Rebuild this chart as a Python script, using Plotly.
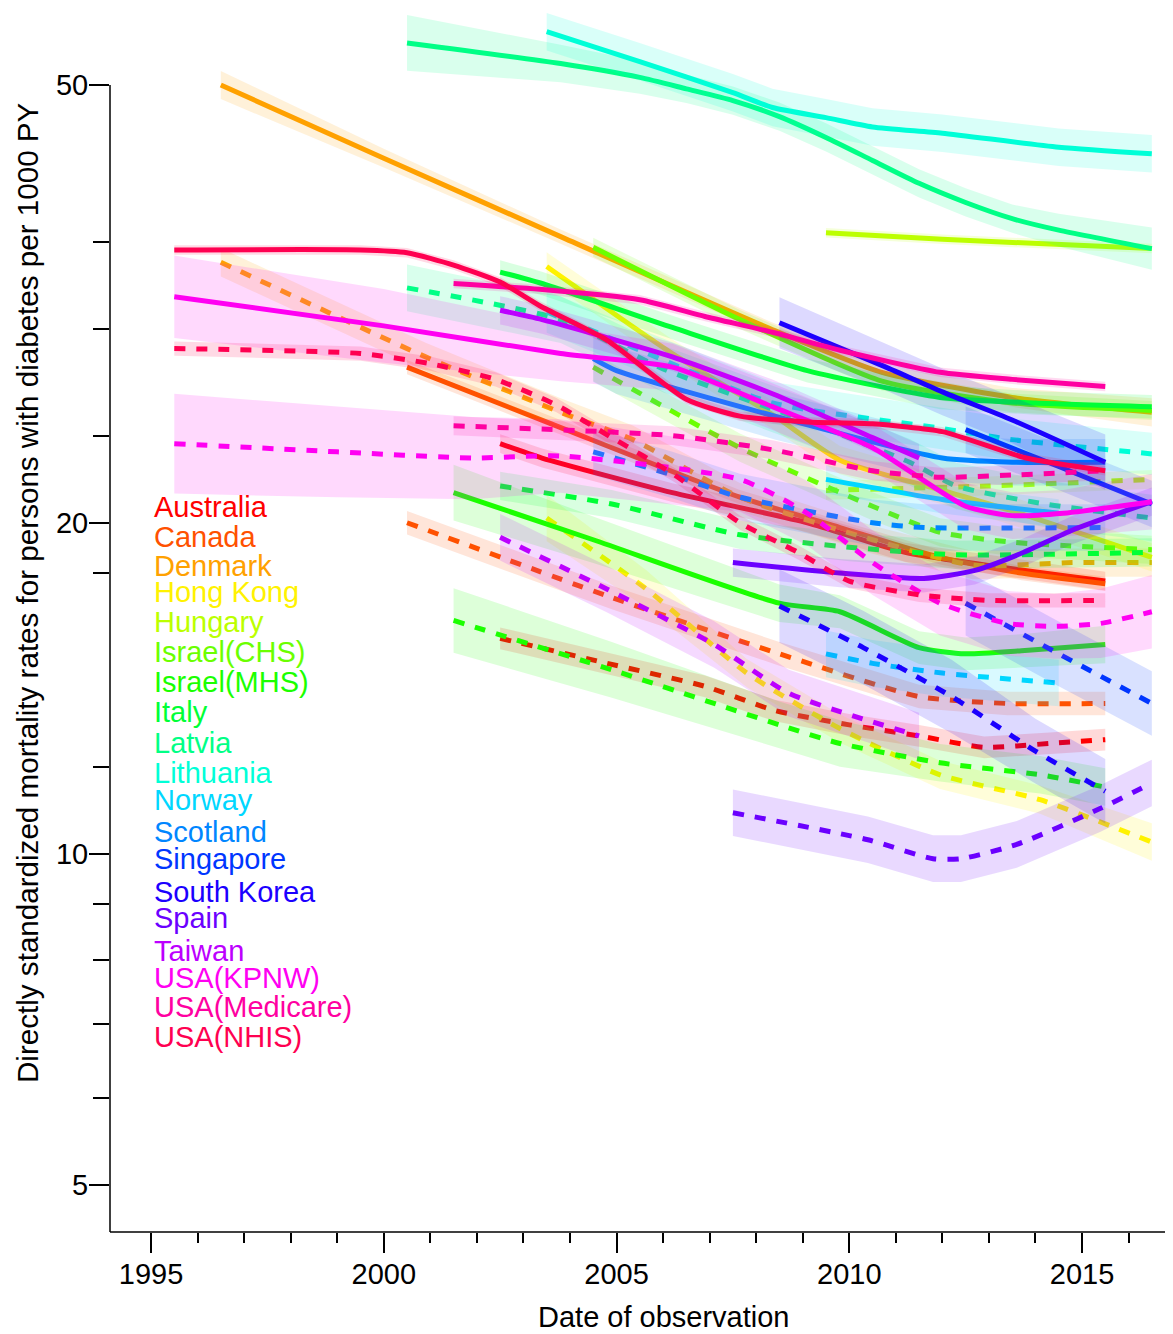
import math
import colorsys
import plotly.graph_objects as go

# ---------------- data ----------------
COUNTRIES = ["Australia", "Canada", "Denmark", "Hong Kong", "Hungary", "Israel(CHS)",
             "Israel(MHS)", "Italy", "Latvia", "Lithuania", "Norway", "Scotland",
             "Singapore", "South Korea", "Spain", "Taiwan", "USA(KPNW)",
             "USA(Medicare)", "USA(NHIS)"]

AUS_S_YR = [2002.5, 2003.4, 2006.2, 2009.1, 2011.2, 2015.5]
AUS_S_VAL = [23.6, 22.9, 21.3, 20.0, 18.8, 17.7]
AUS_S_CI = 0.02
AUS_D_YR = [2002.5, 2004.8, 2006.9, 2008.4, 2010.0, 2011.5, 2012.9, 2014.3, 2015.5]
AUS_D_VAL = [15.7, 14.9, 14.2, 13.5, 13.1, 12.8, 12.5, 12.6, 12.7]
AUS_D_CI = 0.023

CAN_S_YR = [2000.5, 2003.6, 2007.65, 2009.8, 2011.95, 2013.7, 2015.5]
CAN_S_VAL = [27.7, 24.6, 21.1, 19.8, 18.6, 18.0, 17.6]
CAN_S_CI = 0.015
CAN_D_YR = [2000.5, 2004.9, 2008.5, 2011.5, 2013.4, 2015.5]
CAN_D_VAL = [20.0, 17.1, 15.2, 13.9, 13.7, 13.7]
CAN_D_CI = 0.025

DEN_S_YR = [1996.5, 2000.0, 2003.8, 2008.4, 2010.7, 2013.5, 2016.5]
DEN_S_VAL = [50.0, 42.9, 36.4, 29.9, 27.4, 26.0, 25.2]
DEN_S_CI = [0.03, 0.02, 0.015, 0.015, 0.015, 0.02, 0.03]
DEN_D_YR = [1996.5, 2000.9, 2003.8, 2005.35, 2007.65, 2010.5, 2012.65, 2014.8, 2016.5]
DEN_D_VAL = [34.5, 28.3, 25.2, 23.8, 21.1, 19.3, 18.3, 18.4, 18.4]
DEN_D_CI = 0.03

HKG_S_YR = [2003.5, 2006.2, 2008.4, 2009.8, 2012.0, 2013.5, 2016.5]
HKG_S_VAL = [34.2, 28.5, 25.0, 22.8, 21.4, 20.5, 18.6]
HKG_S_CI = 0.03
HKG_D_YR = [2003.5, 2005.65, 2007.8, 2009.8, 2011.95, 2014.1, 2016.5]
HKG_D_VAL = [20.2, 17.4, 14.6, 13.0, 11.8, 11.2, 10.25]
HKG_D_CI = [0.05, 0.04, 0.03, 0.03, 0.03, 0.03, 0.04]

HUN_S_YR = [2009.5, 2012.0, 2016.5]
HUN_S_VAL = [36.7, 36.2, 35.5]
HUN_S_CI = 0.01
HUN_D_YR = [2009.5, 2013.0, 2016.5]
HUN_D_VAL = [21.4, 21.6, 21.9]
HUN_D_CI = 0.02

ICH_S_YR = [2004.5, 2007.65, 2010.7, 2013.5, 2016.5]
ICH_S_VAL = [35.6, 30.6, 26.9, 25.7, 25.3]
ICH_S_CI = 0.02
ICH_D_YR = [2004.5, 2007.65, 2010.5, 2011.95, 2013.5, 2016.5]
ICH_D_VAL = [27.7, 23.4, 20.7, 19.6, 19.2, 18.9]
ICH_D_CI = 0.03

IMH_S_YR = [2001.5, 2004.5, 2008.5, 2009.8, 2011.5, 2012.5, 2013.7, 2015.5]
IMH_S_VAL = [21.3, 19.3, 16.9, 16.6, 15.4, 15.2, 15.3, 15.5]
IMH_S_CI = [0.06, 0.05, 0.04, 0.035, 0.035, 0.035, 0.035, 0.04]
IMH_D_YR = [2001.5, 2004.9, 2008.5, 2009.8, 2011.95, 2014.1, 2015.5]
IMH_D_VAL = [16.3, 14.7, 13.1, 12.6, 12.1, 11.8, 11.5]
IMH_D_CI = [0.07, 0.06, 0.05, 0.05, 0.04, 0.04, 0.04]

ITA_S_YR = [2002.5, 2003.4, 2006.2, 2009.1, 2011.95, 2014.0, 2016.5]
ITA_S_VAL = [33.8, 33.0, 30.1, 27.5, 26.0, 25.7, 25.5]
ITA_S_CI = 0.025
ITA_D_YR = [2002.5, 2004.9, 2007.65, 2010.0, 2012.3, 2016.5]
ITA_D_VAL = [21.6, 20.8, 19.5, 19.0, 18.7, 18.8]
ITA_D_CI = 0.03

LVA_S_YR = [2000.5, 2003.8, 2005.5, 2006.5, 2007.5, 2008.5, 2009.5, 2010.5, 2011.5,
            2012.5, 2013.5, 2014.5, 2016.5]
LVA_S_VAL = [54.6, 52.3, 50.8, 49.6, 48.4, 46.8, 44.8, 42.7, 40.7, 39.1, 37.8, 36.9, 35.5]
LVA_S_CI = [0.06, 0.04, 0.035, 0.03, 0.03, 0.03, 0.03, 0.03, 0.03, 0.03, 0.03, 0.035, 0.045]
LVA_D_YR = [2000.5, 2003.8, 2006.0, 2009.0, 2011.3, 2012.3, 2014.2, 2016.5]
LVA_D_VAL = [32.7, 30.6, 27.6, 24.8, 22.7, 21.6, 20.8, 20.2]
LVA_D_CI = 0.05

LTU_S_YR = [2003.5, 2005.5, 2007.5, 2008.35, 2009.5, 2010.5, 2012.0, 2014.5, 2016.5]
LTU_S_VAL = [55.9, 52.5, 49.2, 47.7, 46.7, 45.8, 45.2, 43.9, 43.3]
LTU_S_CI = 0.04
LTU_D_YR = [2003.5, 2005.5, 2008.35, 2011.9, 2013.5, 2016.5]
LTU_D_VAL = [31.1, 28.7, 25.7, 24.4, 23.8, 23.1]
LTU_D_CI = 0.045

NOR_S_YR = [2009.5, 2012.0, 2014.5]
NOR_S_VAL = [21.9, 21.0, 20.4]
NOR_S_CI = 0.03
NOR_D_YR = [2009.5, 2010.5, 2012.0, 2014.5]
NOR_D_VAL = [15.2, 14.9, 14.6, 14.3]
NOR_D_CI = 0.05

SCO_S_YR = [2004.5, 2005.0, 2008.4, 2012.0, 2013.5, 2015.5]
SCO_S_VAL = [28.2, 27.5, 25.0, 22.9, 22.7, 22.7]
SCO_S_CI = 0.05
SCO_D_YR = [2004.5, 2006.2, 2007.65, 2010.5, 2011.6, 2015.5]
SCO_D_VAL = [23.2, 22.1, 21.1, 20.0, 19.8, 19.8]
SCO_D_CI = 0.05

SGP_S_YR = [2012.5, 2014.5, 2016.5]
SGP_S_VAL = [24.3, 22.5, 20.8]
SGP_S_CI = 0.05
SGP_D_YR = [2012.5, 2014.5, 2016.5]
SGP_D_VAL = [16.9, 15.2, 13.7]
SGP_D_CI = 0.07

KOR_S_YR = [2008.5, 2010.7, 2012.0, 2013.5, 2015.5]
KOR_S_VAL = [30.4, 27.8, 26.3, 24.8, 22.7]
KOR_S_CI = [0.055, 0.05, 0.05, 0.05, 0.06]
KOR_D_YR = [2008.5, 2010.3, 2012.2, 2014.0, 2015.5]
KOR_D_VAL = [16.8, 15.4, 13.9, 12.4, 11.4]
KOR_D_CI = [0.08, 0.08, 0.08, 0.07, 0.07]

ESP_S_YR = [2007.5, 2009.8, 2011.6, 2012.7, 2013.75, 2014.8, 2016.5]
ESP_S_VAL = [18.4, 18.0, 17.8, 18.1, 18.8, 19.7, 20.9]
ESP_S_CI = 0.03
ESP_D_YR = [2007.5, 2010.4, 2011.8, 2012.4, 2013.6, 2015.4, 2016.5]
ESP_D_VAL = [10.9, 10.3, 9.9, 9.9, 10.2, 11.0, 11.6]
ESP_D_CI = 0.05

TWN_S_YR = [2002.5, 2003.4, 2006.2, 2008.35, 2010.5, 2011.5]
TWN_S_VAL = [31.2, 30.6, 28.3, 26.2, 23.9, 22.9]
TWN_S_CI = 0.03
TWN_D_YR = [2002.5, 2004.8, 2007.1, 2008.7, 2011.5]
TWN_D_VAL = [19.4, 17.4, 15.5, 14.0, 12.8]
TWN_D_CI = 0.05

KPN_S_YR = [1995.5, 2000.0, 2003.8, 2006.2, 2008.35, 2010.5, 2012.5, 2013.5, 2014.6, 2016.5]
KPN_S_VAL = [32.1, 30.2, 28.5, 27.7, 25.5, 23.4, 20.7, 20.3, 20.4, 20.9]
KPN_S_CI = [0.09, 0.08, 0.06, 0.05, 0.05, 0.05, 0.05, 0.05, 0.05, 0.06]
KPN_D_YR = [1995.5, 1999.0, 2001.9, 2003.8, 2007.65, 2009.1, 2010.5, 2011.95, 2013.4,
            2014.4, 2015.4, 2016.5]
KPN_D_VAL = [23.6, 23.2, 22.9, 23.0, 21.9, 20.4, 18.4, 16.9, 16.2, 16.1, 16.2, 16.6]
KPN_D_CI = [0.11, 0.1, 0.09, 0.08, 0.07, 0.07, 0.07, 0.07, 0.07, 0.07, 0.075, 0.08]

MED_S_YR = [2001.5, 2003.35, 2005.5, 2006.9, 2008.35, 2009.8, 2011.95, 2013.5, 2015.5]
MED_S_VAL = [33.0, 32.6, 31.9, 30.8, 29.8, 28.7, 27.4, 27.0, 26.6]
MED_S_CI = 0.01
MED_D_YR = [2001.5, 2006.2, 2008.35, 2010.5, 2011.95, 2013.5, 2015.5]
MED_D_VAL = [24.5, 24.0, 23.3, 22.3, 22.0, 22.1, 22.3]
MED_D_CI = 0.02

NHI_S_YR = [1995.5, 1999.5, 2000.5, 2001.5, 2002.5, 2003.35, 2004.8, 2006.5, 2007.65,
            2009.1, 2010.5, 2012.0, 2013.8, 2015.5]
NHI_S_VAL = [35.4, 35.4, 35.2, 34.3, 33.1, 31.5, 29.3, 25.9, 25.0, 24.7, 24.6, 24.2, 22.9, 22.3]
NHI_S_CI = 0.01
NHI_D_YR = [1995.5, 1999.5, 2001.0, 2002.4, 2003.7, 2004.9, 2006.25, 2007.65, 2008.9,
            2010.0, 2011.5, 2013.0, 2015.5]
NHI_D_VAL = [28.8, 28.5, 27.9, 27.0, 25.6, 23.9, 22.1, 20.0, 18.8, 17.7, 17.2, 17.0, 17.0]
NHI_D_CI = 0.015

X_MAJOR = [1995, 2000, 2005, 2010, 2015]
X_MINOR = [y for y in range(1995, 2017) if y not in X_MAJOR]
Y_MAJOR = [5, 10, 20, 50]
Y_MINOR = [6, 7, 8, 9, 12, 18, 24, 30, 36]

SERIES = [
    (0, AUS_S_YR, AUS_S_VAL, AUS_S_CI, AUS_D_YR, AUS_D_VAL, AUS_D_CI),
    (1, CAN_S_YR, CAN_S_VAL, CAN_S_CI, CAN_D_YR, CAN_D_VAL, CAN_D_CI),
    (2, DEN_S_YR, DEN_S_VAL, DEN_S_CI, DEN_D_YR, DEN_D_VAL, DEN_D_CI),
    (3, HKG_S_YR, HKG_S_VAL, HKG_S_CI, HKG_D_YR, HKG_D_VAL, HKG_D_CI),
    (4, HUN_S_YR, HUN_S_VAL, HUN_S_CI, HUN_D_YR, HUN_D_VAL, HUN_D_CI),
    (5, ICH_S_YR, ICH_S_VAL, ICH_S_CI, ICH_D_YR, ICH_D_VAL, ICH_D_CI),
    (6, IMH_S_YR, IMH_S_VAL, IMH_S_CI, IMH_D_YR, IMH_D_VAL, IMH_D_CI),
    (7, ITA_S_YR, ITA_S_VAL, ITA_S_CI, ITA_D_YR, ITA_D_VAL, ITA_D_CI),
    (8, LVA_S_YR, LVA_S_VAL, LVA_S_CI, LVA_D_YR, LVA_D_VAL, LVA_D_CI),
    (9, LTU_S_YR, LTU_S_VAL, LTU_S_CI, LTU_D_YR, LTU_D_VAL, LTU_D_CI),
    (10, NOR_S_YR, NOR_S_VAL, NOR_S_CI, NOR_D_YR, NOR_D_VAL, NOR_D_CI),
    (11, SCO_S_YR, SCO_S_VAL, SCO_S_CI, SCO_D_YR, SCO_D_VAL, SCO_D_CI),
    (12, SGP_S_YR, SGP_S_VAL, SGP_S_CI, SGP_D_YR, SGP_D_VAL, SGP_D_CI),
    (13, KOR_S_YR, KOR_S_VAL, KOR_S_CI, KOR_D_YR, KOR_D_VAL, KOR_D_CI),
    (14, ESP_S_YR, ESP_S_VAL, ESP_S_CI, ESP_D_YR, ESP_D_VAL, ESP_D_CI),
    (15, TWN_S_YR, TWN_S_VAL, TWN_S_CI, TWN_D_YR, TWN_D_VAL, TWN_D_CI),
    (16, KPN_S_YR, KPN_S_VAL, KPN_S_CI, KPN_D_YR, KPN_D_VAL, KPN_D_CI),
    (17, MED_S_YR, MED_S_VAL, MED_S_CI, MED_D_YR, MED_D_VAL, MED_D_CI),
    (18, NHI_S_YR, NHI_S_VAL, NHI_S_CI, NHI_D_YR, NHI_D_VAL, NHI_D_CI),
]

# ---------------- layout geometry (page pixels; page has an 8px body margin) ----------------
OFF = 8
W, H = 1173 - OFF, 1334 - OFF
AXIS_X_PAGE, AXIS_Y_PAGE = 110, 1232
PLOT_RIGHT_PAGE = 1165
ML = AXIS_X_PAGE - OFF
MR = W - (PLOT_RIGHT_PAGE - OFF)
MT = 0
PLOT_H = AXIS_Y_PAGE - OFF - MT
MB = H - MT - PLOT_H
PLOT_W = W - ML - MR

PX_PER_YEAR = 46.55
X1995_PAGE = 151
X0 = 1995 - (X1995_PAGE - AXIS_X_PAGE) / PX_PER_YEAR
X1 = 1995 + (PLOT_RIGHT_PAGE - X1995_PAGE) / PX_PER_YEAR
PX_PER_DECADE = 1100.0
Y50_PAGE = 85
LOG_BOT = math.log10(50) - (AXIS_Y_PAGE - Y50_PAGE) / PX_PER_DECADE
LOG_TOP = math.log10(50) + (Y50_PAGE - OFF - MT) / PX_PER_DECADE

FONT = "Liberation Sans, Arial, Helvetica, sans-serif"
FS = 29


def px_to_paper_x(xp):
    return (xp - AXIS_X_PAGE) / PLOT_W


def px_to_paper_y(yp):
    return (AXIS_Y_PAGE - yp) / PLOT_H


def rainbow(n):
    out = []
    for i in range(n):
        r, g, b = colorsys.hsv_to_rgb(i / n, 1, 1)
        out.append((round(r * 255), round(g * 255), round(b * 255)))
    return out


COLS = rainbow(len(COUNTRIES))


def as_list(ci, n):
    return ci if isinstance(ci, list) else [ci] * n


fig = go.Figure()


def add_curve(yr, val, ci, col, dash):
    cis = as_list(ci, len(val))
    hi = [v * (1 + c) for v, c in zip(val, cis)]
    lo = [v / (1 + c) for v, c in zip(val, cis)]
    r, g, b = col
    fig.add_trace(go.Scatter(
        x=list(yr) + list(yr)[::-1], y=hi + lo[::-1], mode="lines",
        fill="toself", fillcolor=f"rgba({r},{g},{b},0.15)",
        line=dict(width=0), hoverinfo="skip", showlegend=False))
    fig.add_trace(go.Scatter(
        x=yr, y=val, mode="lines",
        line=dict(color=f"rgb({r},{g},{b})", width=5, dash=dash,
                  shape="spline", smoothing=0.6),
        hoverinfo="skip", showlegend=False))


for idx, sy, sv, sc, dy, dv, dc in SERIES:
    col = COLS[idx]
    add_curve(sy, sv, sc, col, "solid")
    add_curve(dy, dv, dc, col, "11px,11px")

# legend labels (page pixel rows)
LABEL_X_PAGE = 152
LABEL_Y_PAGE = [507, 537, 566, 592, 622, 652, 682, 712, 743, 773, 800, 832, 859, 892,
                918, 951, 978, 1007, 1037]
annotations = []
for name, ypx, col in zip(COUNTRIES, LABEL_Y_PAGE, COLS):
    annotations.append(dict(
        x=px_to_paper_x(LABEL_X_PAGE), y=px_to_paper_y(ypx),
        xref="paper", yref="paper", xanchor="left", yanchor="middle",
        text=name, showarrow=False,
        font=dict(family=FONT, size=FS, color=f"rgb({col[0]},{col[1]},{col[2]})")))

annotations.append(dict(
    x=px_to_paper_x(663), y=px_to_paper_y(1317), xref="paper", yref="paper",
    xanchor="center", yanchor="middle", text="Date of observation", showarrow=False,
    font=dict(family=FONT, size=FS, color="black")))
annotations.append(dict(
    x=px_to_paper_x(27), y=px_to_paper_y(593), xref="paper", yref="paper",
    xanchor="center", yanchor="middle", textangle=-90, showarrow=False,
    text="Directly standardized mortality rates for persons with diabetes per 1000 PY",
    font=dict(family=FONT, size=29.6, color="black")))

y50_paper = (math.log10(50) - LOG_BOT) / (LOG_TOP - LOG_BOT)
shapes = [
    dict(type="line", xref="paper", yref="paper", x0=0, x1=0, y0=0, y1=y50_paper,
         line=dict(color="black", width=1.5)),
    dict(type="line", xref="paper", yref="paper", x0=0, x1=1, y0=0, y1=0,
         line=dict(color="black", width=1.5)),
]

fig.update_layout(
    width=W, height=H, autosize=False,
    margin=dict(l=ML, r=MR, t=MT, b=MB, pad=0),
    paper_bgcolor="white", plot_bgcolor="white",
    showlegend=False, hovermode=False,
    annotations=annotations, shapes=shapes,
    font=dict(family=FONT, size=FS, color="black"),
    xaxis=dict(range=[X0, X1], showgrid=False, zeroline=False, showline=False,
               tickmode="array", tickvals=X_MAJOR, ticktext=[str(v) for v in X_MAJOR],
               ticks="outside", ticklen=20, tickwidth=1.5, tickcolor="black",
               ticklabelstandoff=-4,
               tickfont=dict(family=FONT, size=FS, color="black"),
               minor=dict(tickmode="array", tickvals=X_MINOR, ticks="outside",
                          ticklen=10, tickwidth=1.5, tickcolor="black", showgrid=False)),
    yaxis=dict(type="log", range=[LOG_BOT, LOG_TOP], showgrid=False, zeroline=False,
               showline=False, tickmode="array", tickvals=Y_MAJOR,
               ticktext=[str(v) for v in Y_MAJOR],
               ticks="outside", ticklen=20, tickwidth=1.5, tickcolor="black",
               ticklabelstandoff=-5,
               tickfont=dict(family=FONT, size=FS, color="black"),
               minor=dict(tickmode="array", tickvals=Y_MINOR, ticks="outside",
                          ticklen=16, tickwidth=1.5, tickcolor="black", showgrid=False)),
)

fig.write_html("out.html")
